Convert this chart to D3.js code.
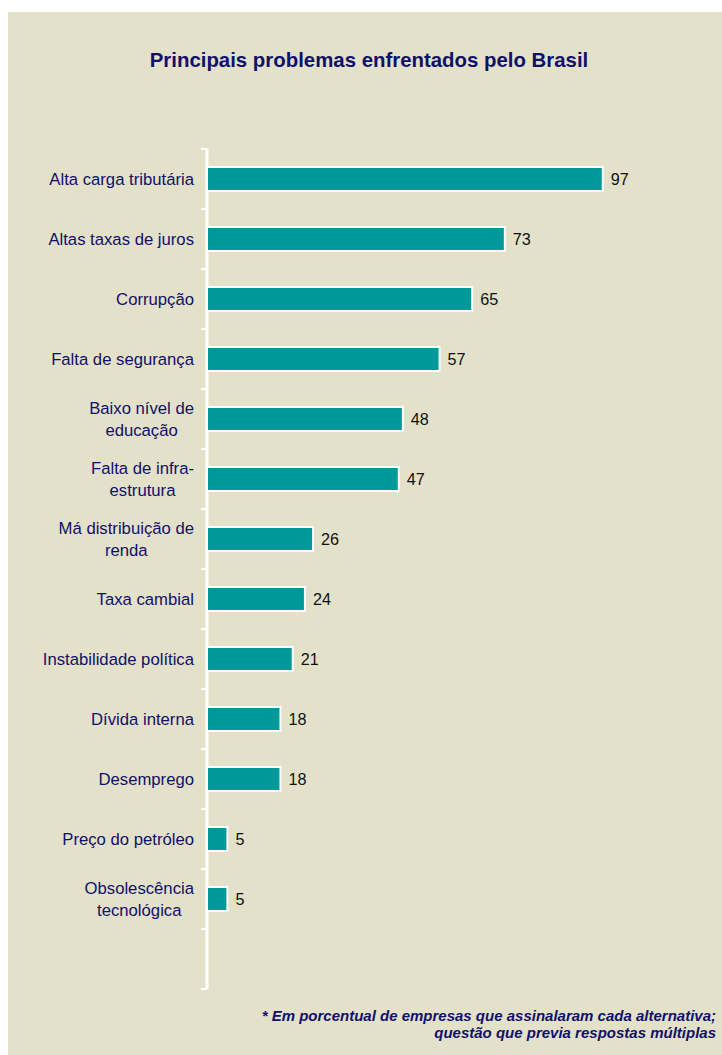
<!DOCTYPE html>
<html><head><meta charset="utf-8">
<script src="https://cdn.jsdelivr.net/npm/d3@7"></script>
<style>body{margin:0;background:#fff;} svg{display:block;}</style>
</head><body>
<svg id="c" width="722" height="1055"></svg>
<script>
const categories = [
  ["Alta carga tributária"],
  ["Altas taxas de juros"],
  ["Corrupção"],
  ["Falta de segurança"],
  ["Baixo nível de","educação"],
  ["Falta de infra-","estrutura"],
  ["Má distribuição de","renda"],
  ["Taxa cambial"],
  ["Instabilidade política"],
  ["Dívida interna"],
  ["Desemprego"],
  ["Preço do petróleo"],
  ["Obsolescência","tecnológica"],
  [""]
];
const values = [97,73,65,57,48,47,26,24,21,18,18,5,5,null];
const title = "Principais problemas enfrentados pelo Brasil";
const footnote = ["* Em porcentual de empresas que assinalaram cada alternativa;","questão que previa respostas múltiplas"];

const svg = d3.select("#c");
const navy = "#10106b";
const FONT = "Liberation Sans, Arial, sans-serif";
svg.append("rect").attr("x",8).attr("y",12).attr("width",714).attr("height",1043).attr("fill","#e3e1c9");

svg.append("text").attr("x",369).attr("y",67).attr("text-anchor","middle")
  .attr("font-family",FONT).attr("font-weight","bold")
  .attr("font-size",20.4).attr("fill",navy).text(title);

const ids = categories.map((d,i)=>i);
const yb = d3.scaleBand().domain(ids).range([149,989]);
const x = d3.scaleLinear().domain([0,100]).range([207,615]);

// axis
const ax = svg.append("g").attr("transform","translate(207,0)");
ax.append("line").attr("x1",0).attr("x2",0).attr("y1",149).attr("y2",989).attr("stroke","#fff").attr("stroke-width",3);
const tickYs = ids.map(i=>yb(i)).concat([989]);
ax.selectAll("line.t").data(tickYs).enter().append("line").attr("class","t")
  .attr("x1",-6).attr("x2",0).attr("y1",d=>d).attr("y2",d=>d).attr("stroke","#fff").attr("stroke-width",2);

// bars
const data = values.map((v,i)=>({i,v})).filter(d=>d.v!=null);
svg.selectAll("rect.bar").data(data).enter().append("rect").attr("class","bar")
  .attr("x",x(0)).attr("y",d=>yb(d.i)+yb.bandwidth()/2-12)
  .attr("width",d=>x(d.v)-x(0)).attr("height",24)
  .attr("fill","#009999").attr("stroke","#fff").attr("stroke-width",2);

svg.selectAll("text.val").data(data).enter().append("text").attr("class","val")
  .attr("x",d=>x(d.v)+8).attr("y",d=>yb(d.i)+yb.bandwidth()/2+6)
  .attr("font-family",FONT).attr("font-size",16.2).attr("fill","#111")
  .text(d=>d.v);

// category labels
categories.forEach((lines,i)=>{
  const cy = yb(i)+yb.bandwidth()/2;
  const g = svg.append("g");
  const n = lines.length;
  const ts = lines.map((ln,k)=>g.append("text")
    .attr("y", cy + 6 + (k-(n-1)/2)*22.6)
    .attr("font-family",FONT).attr("font-size",16.7).attr("fill",navy)
    .attr("text-anchor","middle").text(ln));
  const maxW = d3.max(ts, t=>t.node().getComputedTextLength());
  ts.forEach(t=>t.attr("x", 194 - maxW/2));
});

footnote.forEach((ln,k)=>{
  svg.append("text").attr("x",716).attr("y",1021+k*17).attr("text-anchor","end")
    .attr("font-family",FONT).attr("font-weight","bold").attr("font-style","italic")
    .attr("font-size",15).attr("fill",navy).text(ln);
});
</script>
</body></html>
